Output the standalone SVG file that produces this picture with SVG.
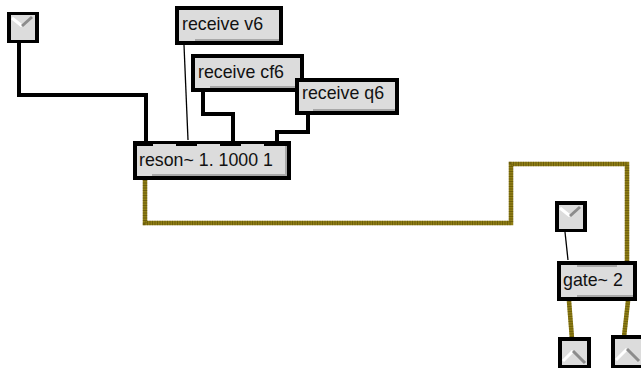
<svg xmlns="http://www.w3.org/2000/svg" width="641" height="368" viewBox="0 0 641 368">
<defs>
<style>
.outer{fill:#000}
.inner{fill:#dcdcdc}
.shade{fill:#a8a8a8}
.lbl{font-family:"Liberation Sans",Arial,sans-serif;font-size:17.8px;fill:#111}
.ctl{fill:none;stroke:#000;stroke-width:4;stroke-linejoin:miter}
.thin{fill:none;stroke:#000;stroke-width:1.3}
.sig{fill:none;stroke:#8f7e14;stroke-width:4.5;stroke-linejoin:miter}
.sigdots{fill:none;stroke:#3a3000;stroke-width:4.5;stroke-dasharray:1 1.5;opacity:0.4}
.w{stroke:#fff;stroke-width:3;fill:none}
.g{stroke:#8c8c8c;stroke-width:3;fill:none}
</style>
</defs>
<rect width="641" height="368" fill="#fff"/>
<g id="connectors">
<polyline class="ctl" points="19,43 19,95 146,95 146,143"/>
<polyline class="thin" points="184,45 188,140"/>
<polyline class="ctl" points="203,92 203,114 233,114 233,143"/>
<polyline class="ctl" points="308,115 308,132 277,132 277,143"/>
<polyline class="sig" points="145,180 145,223 511,223 511,164 627,164 627,263"/>
<polyline class="sigdots" points="145,180 145,223 511,223 511,164 627,164 627,263"/>
<polyline class="thin" points="565,232 568,260"/>
<polyline class="sig" points="569,301 572,339"/>
<polyline class="sigdots" points="569,301 572,339"/>
<polyline class="sig" points="628,301 624,337"/>
<polyline class="sigdots" points="628,301 624,337"/>
</g>
<g id="toggle1">
<rect class="outer" x="7" y="12" width="32" height="31"/>
<rect class="inner" x="11" y="15" width="24" height="25"/>
<polyline class="w" points="12,18 22,26"/>
<polyline class="g" points="22,26 32,17"/>
</g>
<g id="receive_v6">
<rect class="outer" x="175" y="6" width="108" height="39"/>
<rect class="inner" x="179" y="10" width="100" height="31"/>
<rect class="shade" x="195" y="39" width="84" height="2"/>
<text class="lbl" x="182" y="30">receive v6</text>
</g>
<g id="receive_cf6">
<rect class="outer" x="191" y="54" width="113" height="38"/>
<rect class="inner" x="195" y="58" width="105" height="30"/>
<rect class="shade" x="210" y="86" width="90" height="2"/>
<text class="lbl" x="198" y="78">receive cf6</text>
</g>
<g id="receive_q6">
<rect class="outer" x="295" y="78" width="104" height="37"/>
<rect class="inner" x="299" y="82" width="96" height="29"/>
<rect class="shade" x="313" y="109" width="82" height="2"/>
<text class="lbl" x="302" y="99">receive q6</text>
</g>
<g id="reson">
<rect class="outer" x="133" y="141" width="158" height="39"/>
<rect class="inner" x="137" y="146" width="150" height="30"/>
<rect class="shade" x="152" y="174" width="135" height="2"/>
<rect class="shade" x="285" y="146" width="2" height="30"/>
<rect class="inner" x="153" y="144" width="23" height="2"/>
<rect class="inner" x="197" y="144" width="23" height="2"/>
<rect class="inner" x="241" y="144" width="23" height="2"/>
<text class="lbl" x="139" y="166">reson~ 1. 1000 1</text>
</g>
<g id="toggle2">
<rect class="outer" x="555" y="201" width="32" height="31"/>
<rect class="inner" x="559" y="205" width="24" height="24"/>
<polyline class="w" points="560,208 570,216"/>
<polyline class="g" points="570,216 580,207"/>
</g>
<g id="gate">
<rect class="outer" x="557" y="261" width="80" height="40"/>
<rect class="inner" x="561" y="265" width="72" height="32"/>
<rect class="shade" x="577" y="295" width="56" height="2"/>
<rect class="shade" x="577" y="265" width="40" height="2"/>
<text class="lbl" x="563" y="286">gate~ 2</text>
</g>
<g id="meter1">
<rect class="outer" x="558" y="337" width="33" height="31"/>
<rect class="inner" x="562" y="341" width="25" height="24"/>
<polyline class="w" points="563,361 573,351"/>
<polyline class="g" points="573,351 585,363"/>
</g>
<g id="meter2">
<rect class="outer" x="611" y="335" width="30" height="33"/>
<rect class="inner" x="615" y="339" width="26" height="26"/>
<polyline class="w" points="616,360 627,349"/>
<polyline class="g" points="627,349 639,361"/>
</g>
</svg>
